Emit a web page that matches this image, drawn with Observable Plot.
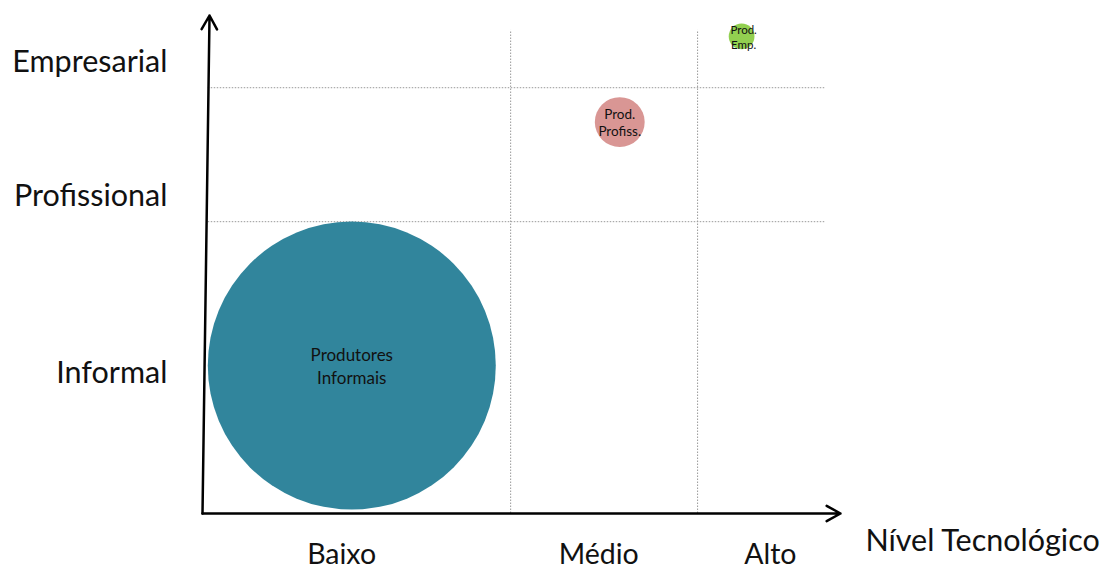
<!DOCTYPE html>
<html>
<head>
<meta charset="utf-8">
<script src="https://cdn.jsdelivr.net/npm/d3@7"></script>
<script src="https://cdn.jsdelivr.net/npm/@observablehq/plot@0.6"></script>
<style>
  html, body { margin: 0; padding: 0; background: #fff; }
  #chart svg { display: block; }
</style>
</head>
<body>
<div id="chart"></div>
<script>
// ---- data ----
const techLevels = ["Baixo", "Médio", "Alto"];          // x categories
const techTicks = [2.18, 6.21, 8.9];                      // centres on tech scale (0–10)
const techBounds = [4.83, 7.76];                          // borders between x categories
const orgLevels = ["Informal", "Profissional", "Empresarial"]; // y categories
const orgTicks = [2.81, 6.37, 9.06];                      // centres on org scale (0–10)
const orgBounds = [5.86, 8.55];                           // borders between y categories
const producers = ["Produtores\nInformais", "Prod.\nProfiss.", "Prod.\nEmp."];
const producerTech = [2.34, 6.54, 8.45];
const producerOrg = [2.97, 7.86, 9.58];
const producerSize = [100, 3, 0.8];
const producerColor = ["#31859C", "#D99694", "#92D050"];
const xTitle = "Nível Tecnológico";

// ---- build tables ----
const bubbles = producers.map((name, i) => ({
  name, tech: producerTech[i], org: producerOrg[i], size: producerSize[i], color: producerColor[i]
}));
const xLabels = techLevels.map((t, i) => ({label: t, x: techTicks[i]}));
const yLabels = orgLevels.map((t, i) => ({label: t, y: orgTicks[i]}));

const font = "Lato, 'Open Sans', sans-serif";

const chart = Plot.plot({
  width: 1103,
  height: 573,
  marginLeft: 202,
  marginRight: 263,
  marginTop: 15,
  marginBottom: 60,
  x: {domain: [0, 10], axis: null},
  y: {domain: [0, 10], axis: null},
  r: {type: "sqrt", domain: [0, 100], range: [0, 144]},
  style: {fontFamily: font, background: "#fff"},
  marks: [
    // dotted grid
    Plot.ruleX(techBounds, {y1: 0, y2: 9.7, stroke: "#999", strokeDasharray: "1.5,1.5", strokeWidth: 1}),
    Plot.ruleY(orgBounds, {x1: 0.09, x2: 9.76, stroke: "#999", strokeDasharray: "1.5,1.5", strokeWidth: 1}),
    // bubbles
    Plot.dot(bubbles, {x: "tech", y: "org", r: "size", fill: "color", stroke: "none"}),
    Plot.text(bubbles.slice(0, 1), {x: "tech", y: "org", text: "name", fontSize: 17, lineHeight: 1.35, fill: "#111"}),
    Plot.text(bubbles.slice(1, 2), {x: "tech", y: "org", text: "name", fontSize: 13.5, lineHeight: 1.25, fill: "#111"}),
    Plot.text(bubbles.slice(2, 3), {x: "tech", y: "org", text: "name", fontSize: 11.5, lineHeight: 1.3, fill: "#111", dx: 2}),
    // axes as arrows
    Plot.arrow([{x1: 0, y1: 0, x2: 10, y2: 0}], {x1: "x1", y1: "y1", x2: "x2", y2: "y2", stroke: "#000", strokeWidth: 2.5, headLength: 9.5, headAngle: 58}),
    Plot.arrow([{x1: 0, y1: 0, x2: 0.11, y2: 10}], {x1: "x1", y1: "y1", x2: "x2", y2: "y2", stroke: "#000", strokeWidth: 2.5, headLength: 9.5, headAngle: 58}),
    // category labels
    Plot.text(xLabels, {x: "x", y: -0.84, text: "label", fontSize: 28.5, fill: "#111"}),
    Plot.text(yLabels, {x: -0.55, y: "y", text: "label", fontSize: 30.5, textAnchor: "end", fill: "#111"}),
    Plot.text([xTitle], {x: 10.39, y: -0.56, text: d => d, fontSize: 30.5, textAnchor: "start", fill: "#111"})
  ]
});
document.getElementById("chart").appendChild(chart);
</script>
</body>
</html>
